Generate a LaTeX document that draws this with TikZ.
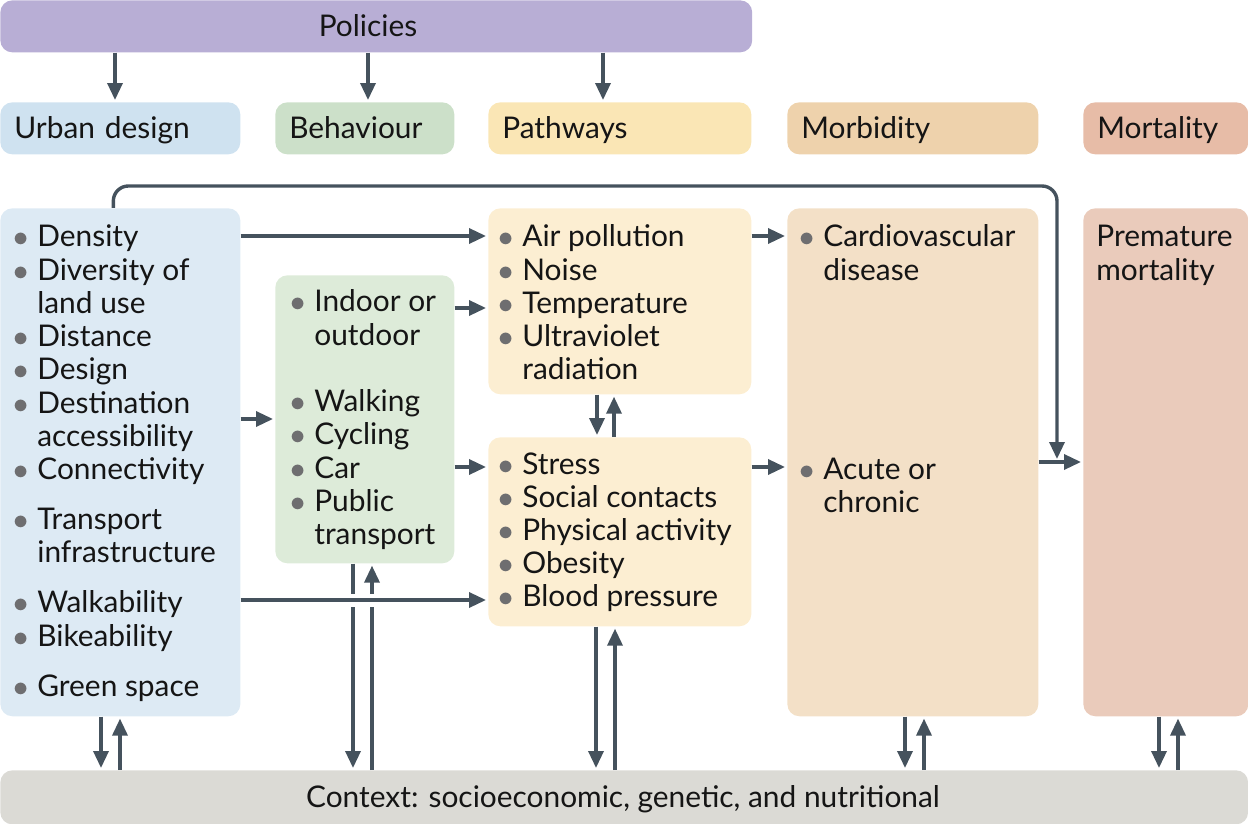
\documentclass[tikz,border=0pt]{standalone}
\usepackage{fontspec}
\setmainfont{Lato}
\usetikzlibrary{arrows.meta,positioning}
\definecolor{polc}{HTML}{B8AED5}
\definecolor{urbh}{HTML}{CFE2F0}
\definecolor{urbc}{HTML}{DDEAF4}
\definecolor{behh}{HTML}{CCE0C9}
\definecolor{behc}{HTML}{DDEBD9}
\definecolor{pathh}{HTML}{FAE6B5}
\definecolor{pathc}{HTML}{FCEED2}
\definecolor{morbh}{HTML}{EED2AC}
\definecolor{morbc}{HTML}{F3E0C7}
\definecolor{morth}{HTML}{E7BCA7}
\definecolor{mortc}{HTML}{EACBBB}
\definecolor{ctxc}{HTML}{DBDAD5}
\definecolor{arrc}{HTML}{45525D}
\definecolor{dotc}{HTML}{6E6E70}
\definecolor{txtc}{HTML}{151515}
\newcommand{\itm}{\llap{\makebox[0.64cm]{\textcolor{dotc}{$\bullet$}}}}
\newcommand{\lst}[1]{\begin{tabular}[t]{@{}l@{}}#1\end{tabular}}
\begin{document}
\begin{tikzpicture}[x=0.02cm,y=-0.02cm,
    every node/.style={inner sep=0pt,text=txtc,font=\fontsize{17}{18.9}\selectfont},
    panel/.style={anchor=north west,rounded corners=0.24cm,draw=none},
    head/.style={panel,minimum height=1.04cm,text height=14pt,text depth=3pt,align=left,inner xsep=0.28cm},
    txt/.style={anchor=base west},
    link/.style={draw=arrc,line width=0.068cm,-{Triangle[length=0.34cm,width=0.3cm]},shorten >=0.04cm}]
\useasboundingbox (0,0) rectangle (1248,824);

\node[panel,fill=polc,minimum width=15.04cm,minimum height=1.04cm] (pol) at (0,0) {};
\node[text height=13pt,text depth=3pt] (poltxt) at (368,28) {Policies};

\node[head,fill=urbh,minimum width=4.8cm,text width=4.24cm] (hurb) at (0,102) {Urban design};
\node[head,fill=behh,minimum width=3.58cm,text width=3.02cm] (hbeh) at (275,102) {Behaviour};
\node[head,fill=pathh,minimum width=5.26cm,text width=4.7cm] (hpath) at (488,102) {Pathways};
\node[head,fill=morbh,minimum width=5.02cm,text width=4.46cm] (hmorb) at (787,102) {Morbidity};
\node[head,fill=morth,minimum width=3.3cm,text width=2.74cm] (hmort) at (1083,102) {Mortality};

\node[panel,fill=urbc,minimum width=4.8cm,minimum height=10.16cm] (urban) at (0,208) {};
\node[panel,fill=behc,minimum width=3.58cm,minimum height=5.76cm] (beh) at (275,275) {};
\node[panel,fill=pathc,minimum width=5.26cm,minimum height=3.72cm] (envp) at (488,208) {};
\node[panel,fill=pathc,minimum width=5.26cm,minimum height=3.78cm] (biop) at (488,437) {};
\node[panel,fill=morbc,minimum width=5.02cm,minimum height=10.16cm] (morb) at (787,208) {};
\node[panel,fill=mortc,minimum width=3.3cm,minimum height=10.16cm] (mort) at (1083,208) {};
\node[panel,fill=ctxc,minimum width=24.96cm,minimum height=1.08cm] (ctx) at (0,770) {};
\node[text height=13pt,text depth=3pt] (ctxtxt) at (623,799) {Context: socioeconomic, genetic, and nutritional};

\node[txt] (urblist) at (37,247) {\lst{\itm Density\\ \itm Diversity of\\ land use\\ \itm Distance\\ \itm Design\\
  \itm Destination\\ accessibility\\ \itm Connectivity\\[9.6pt] \itm Transport\\ infrastructure\\[9.6pt]
  \itm Walkability\\ \itm Bikeability\\[9.6pt] \itm Green space}};
\node[txt] (behlist) at (314,312) {\lst{\itm Indoor or\\ outdoor\\[18.9pt] \itm Walking\\ \itm Cycling\\ \itm Car\\ \itm Public\\ transport}};
\node[txt] (envlist) at (522,247) {\lst{\itm Air pollution\\ \itm Noise\\ \itm Temperature\\ \itm Ultraviolet\\ radiation}};
\node[txt] (biolist) at (522,474) {\lst{\itm Stress\\ \itm Social contacts\\ \itm Physical activity\\ \itm Obesity\\ \itm Blood pressure}};
\node[txt] (cvd) at (823,247) {\lst{\itm Cardiovascular\\ disease}};
\node[txt] (acute) at (823,479) {\lst{\itm Acute or\\ chronic}};
\node[txt] (prem) at (1096,247) {\lst{Premature\\ mortality}};

\foreach \x/\h in {115/hurb,368/hbeh,603/hpath}
  \draw[link] (pol.south -| \x,0) -- (\h.north -| \x,0);

\foreach \b/\x [evaluate=\x as \xu using \x+19] in {urban/101,beh/353,biop/596,morb/905,mort/1159} {
  \draw[link] (\b.south -| \x,0) -- (ctx.north -| \x,0);
  \draw[link] (ctx.north -| \xu,0) -- (\b.south -| \xu,0);
}
\draw[link] (envp.south -| 597,0) -- (biop.north -| 597,0);
\draw[link] (biop.north -| 614,0) -- (envp.south -| 614,0);

\draw[link] (urban.east |- 0,236) -- (envp.west |- 0,236);
\draw[link] (urban.east |- 0,419) -- (beh.west |- 0,419);
\draw[link] (beh.east |- 0,308) -- (envp.west |- 0,308);
\draw[link] (beh.east |- 0,467) -- (biop.west |- 0,467);
\draw[link,preaction={draw=white,line width=0.26cm,arrows=-}] (urban.east |- 0,600) -- (biop.west |- 0,600);
\draw[link] (envp.east |- 0,236) -- (morb.west |- 0,236);
\draw[link] (biop.east |- 0,467) -- (morb.west |- 0,467);
\draw[link] (morb.east |- 0,462) -- (mort.west |- 0,462);

\coordinate (join) at (1057,461);
\draw[link,rounded corners=0.3cm] ([xshift=-0.14cm]urban.north) |- (1057,186) -- (join);
\end{tikzpicture}
\end{document}
